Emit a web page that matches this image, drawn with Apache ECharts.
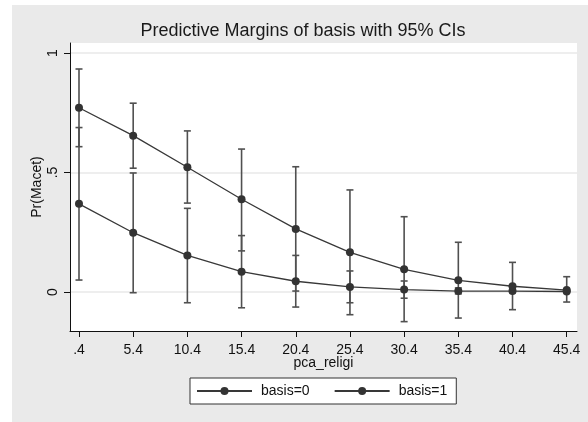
<!DOCTYPE html>
<html>
<head>
<meta charset="utf-8">
<script src="https://cdn.jsdelivr.net/npm/echarts@6/dist/echarts.min.js"></script>
<style>html,body{margin:0;padding:0;background:#fff}#c{width:588px;height:422px}</style>
</head>
<body>
<div id="c"></div>
<script>
const xValues = [0.4, 5.4, 10.4, 15.4, 20.4, 25.4, 30.4, 35.4, 40.4, 45.4];
const xTickLabels = ['.4', '5.4', '10.4', '15.4', '20.4', '25.4', '30.4', '35.4', '40.4', '45.4'];
const yTickValues = [0, 0.5, 1];
const yTickLabels = ['0', '.5', '1'];
const margin0 = [0.369, 0.248, 0.153, 0.085, 0.045, 0.021, 0.010, 0.004, 0.004, 0.002];
const lower0  = [0.050, -0.003, -0.045, -0.066, -0.063, -0.045, -0.026, -0.008, -0.003, -0.001];
const upper0  = [0.688, 0.498, 0.350, 0.236, 0.153, 0.088, 0.046, 0.017, 0.011, 0.005];
const margin1 = [0.771, 0.654, 0.522, 0.388, 0.264, 0.166, 0.095, 0.049, 0.024, 0.008];
const lower1  = [0.608, 0.518, 0.372, 0.172, 0.004, -0.095, -0.124, -0.109, -0.074, -0.042];
const upper1  = [0.933, 0.790, 0.674, 0.598, 0.524, 0.427, 0.315, 0.208, 0.124, 0.064];
const seriesNames = ['basis=0', 'basis=1'];
const chartTitle = 'Predictive Margins of basis with 95% CIs';
const xTitle = 'pca_religi';
const yTitle = 'Pr(Macet)';

const FONT = 'Liberation Sans, Arial, sans-serif';
const LINE = '#383838';
const CI = '#505050';

function ciData(lo, hi) { return xValues.map((x, i) => [x, lo[i], hi[i]]); }
function ciRender(params, api) {
  const x = api.value(0);
  const p1 = api.coord([x, api.value(1)]);
  const p2 = api.coord([x, api.value(2)]);
  const hw = 3.5;
  const st = { stroke: CI, lineWidth: 1.6 };
  return { type: 'group', children: [
    { type: 'line', shape: { x1: p1[0], y1: p1[1], x2: p2[0], y2: p2[1] }, style: st },
    { type: 'line', shape: { x1: p1[0] - hw, y1: p1[1], x2: p1[0] + hw, y2: p1[1] }, style: st },
    { type: 'line', shape: { x1: p2[0] - hw, y1: p2[1], x2: p2[0] + hw, y2: p2[1] }, style: st }
  ]};
}

const chart = echarts.init(document.getElementById('c'), null, { renderer: 'canvas' });
chart.setOption({
  animation: false,
  backgroundColor: '#ffffff',
  graphic: [
    { type: 'rect', z: -10, shape: { x: 12, y: 5, width: 576, height: 417 }, style: { fill: '#eaeaea' } },
    { type: 'text', x: 303, y: 31, style: { text: chartTitle, font: '18px ' + FONT, fill: '#1a1a1a', textAlign: 'center', textVerticalAlign: 'middle' } }
  ],
  grid: { left: 70, top: 43, right: 11, bottom: 91, show: true, backgroundColor: '#ffffff', borderWidth: 0 },
  legend: {
    data: seriesNames,
    left: 190, top: 378,
    backgroundColor: '#ffffff', borderColor: '#333', borderWidth: 1,
    padding: [6, 9, 6, 6],
    itemWidth: 55, itemHeight: 10, itemGap: 24,
    textStyle: { fontFamily: FONT, fontSize: 14, color: '#111', padding: [0, 0, 0, 4] },
    inactiveColor: '#333'
  },
  xAxis: {
    type: 'value', min: -0.43, max: 46.35,
    name: xTitle, nameLocation: 'middle', nameGap: 25, nameMoveOverlap: false,
    nameTextStyle: { fontFamily: FONT, fontSize: 14, color: '#111' },
    axisLine: { show: true, onZero: false, lineStyle: { color: '#111', width: 1 } },
    axisTick: { show: true, length: 6, customValues: xValues, lineStyle: { color: '#111' } },
    axisLabel: { customValues: xValues, margin: 12, fontFamily: FONT, fontSize: 14, color: '#111',
      formatter: v => { const i = xValues.findIndex(t => Math.abs(t - v) < 1e-6); return i >= 0 ? xTickLabels[i] : ''; } },
    splitLine: { show: false }
  },
  yAxis: {
    type: 'value', min: -0.1632, max: 1.0418,
    name: yTitle, nameLocation: 'middle', nameGap: 26, nameMoveOverlap: false,
    nameTextStyle: { fontFamily: FONT, fontSize: 14, color: '#111' },
    axisLine: { show: true, onZero: false, lineStyle: { color: '#111', width: 1 } },
    axisTick: { show: true, length: 6, customValues: yTickValues, lineStyle: { color: '#111' } },
    axisLabel: { customValues: yTickValues, rotate: 90, margin: 10, fontFamily: FONT, fontSize: 14, color: '#111',
      formatter: v => { const i = yTickValues.findIndex(t => Math.abs(t - v) < 1e-6); return i >= 0 ? yTickLabels[i] : ''; } },
    splitLine: { show: true, lineStyle: { color: '#e8e8e8', width: 1.5 } }
  },
  series: [
    { type: 'custom', name: 'ci0', renderItem: ciRender, data: ciData(lower0, upper0), z: 2, silent: true },
    { type: 'custom', name: 'ci1', renderItem: ciRender, data: ciData(lower1, upper1), z: 2, silent: true },
    { type: 'line', name: seriesNames[0], data: xValues.map((x, i) => [x, margin0[i]]), z: 3,
      symbol: 'circle', symbolSize: 8, showSymbol: true,
      lineStyle: { color: LINE, width: 1.3 }, itemStyle: { color: '#333' } },
    { type: 'line', name: seriesNames[1], data: xValues.map((x, i) => [x, margin1[i]]), z: 3,
      symbol: 'circle', symbolSize: 8, showSymbol: true,
      lineStyle: { color: LINE, width: 1.3 }, itemStyle: { color: '#333' } }
  ]
});
</script>
</body>
</html>
